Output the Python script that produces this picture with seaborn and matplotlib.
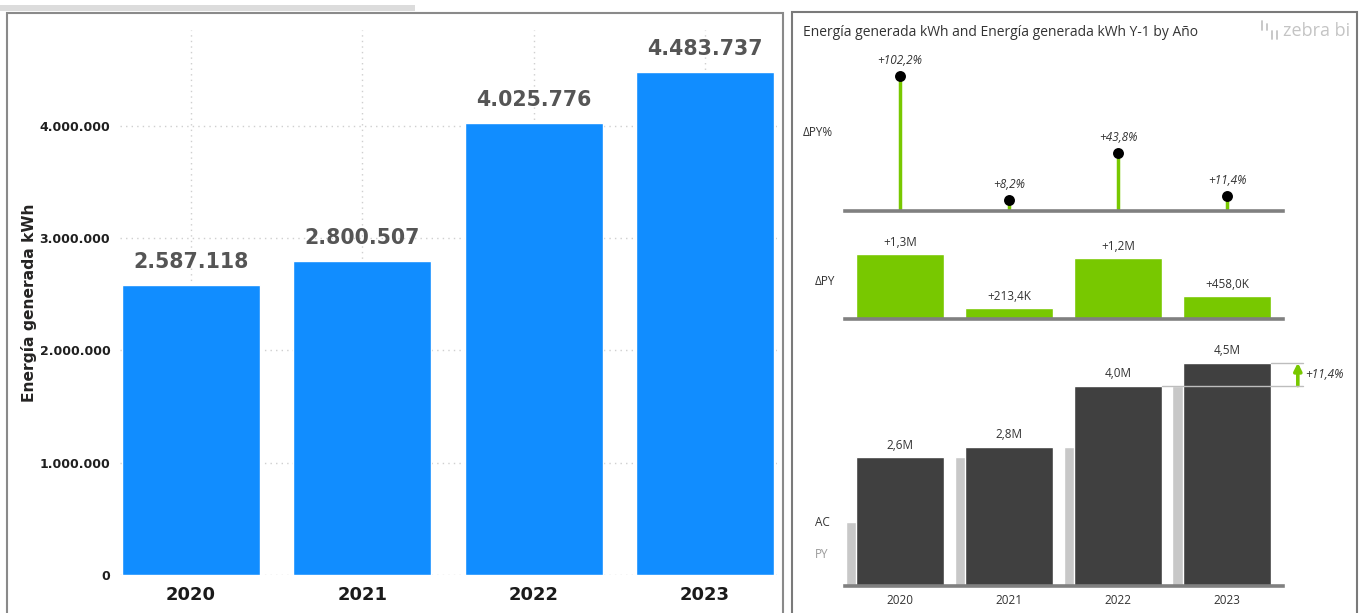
import numpy as np
import pandas as pd
import matplotlib
matplotlib.use("Agg")
import matplotlib.pyplot as plt
import seaborn as sns
from matplotlib.patches import Rectangle
from matplotlib.lines import Line2D

# ---------------- data ----------------
years = ["2020", "2021", "2022", "2023"]
energia_ac = [2587118, 2800507, 4025776, 4483737]       # Energía generada kWh
energia_py = [1279485, 2587118, 2800507, 4025776]       # Energía generada kWh Y-1
y_ticks = [0, 1000000, 2000000, 3000000, 4000000]

title_right = "Energía generada kWh and Energía generada kWh Y-1 by Año"
ylabel_left = "Energía generada kWh"

# ---------------- style ----------------
sns.set_theme(style="white")
plt.rcParams["font.family"] = ["DejaVu Sans"]

BLUE = "#118DFF"
GREEN = "#78C800"
DARK = "#404040"
LIGHT = "#C8C8C8"
TXT = "#333333"
RF = "Open Sans"
FS = 8.5

W, H = 1364, 613
fig = plt.figure(figsize=(W / 100, H / 100), dpi=100)
fig.patch.set_facecolor("white")


def rect(x0, y0, x1, y1):
    return [x0 / W, 1 - y1 / H, (x1 - x0) / W, (y1 - y0) / H]


def dots(v):
    return f"{v:,.0f}".replace(",", ".")


def short(v, sign=False):
    s = "+" if (sign and v >= 0) else ""
    if abs(v) >= 1e6:
        return s + f"{v / 1e6:.1f}M".replace(".", ",")
    return s + f"{v / 1e3:.1f}K".replace(".", ",")


# ---------------- panel frames ----------------
fig.add_artist(Rectangle((0, 1 - 11 / H), 415 / W, 6 / H, transform=fig.transFigure,
                         facecolor="#dcdcdc", edgecolor="none"))
fig.add_artist(Rectangle((7 / W, -0.05), (783 - 7) / W, 1.05 - 13 / H, transform=fig.transFigure,
                         facecolor="none", edgecolor="#8a8a8a", lw=1.5))
fig.add_artist(Rectangle((792 / W, -0.05), (1357 - 792) / W, 1.05 - 12 / H, transform=fig.transFigure,
                         facecolor="none", edgecolor="#7a7a7a", lw=1.5))

# ---------------- left chart ----------------
axL = fig.add_axes(rect(120, 30, 777, 575))
dfL = pd.DataFrame({"Año": years, "kWh": energia_ac})
sns.barplot(data=dfL, x="Año", y="kWh", color=BLUE, saturation=1, width=0.806, ax=axL, zorder=2)
axL.set_xlim(-0.414, 3.42)
axL.set_ylim(0, 4.855e6)
axL.set_yticks(y_ticks)
axL.set_yticklabels([dots(v) for v in y_ticks])
axL.set_xlabel("")
axL.set_ylabel(ylabel_left, fontsize=11.2, fontweight="bold", color="#252423")
axL.yaxis.set_label_coords(-0.126, 0.5)
for s in axL.spines.values():
    s.set_visible(False)
axL.grid(True, axis="both", color="#cfcfcf", lw=1, linestyle=(0, (1, 3)), zorder=0)
axL.set_axisbelow(True)
axL.tick_params(axis="y", length=0, pad=7, labelsize=9, labelcolor="#1f1f1f")
axL.tick_params(axis="x", length=0, pad=8, labelsize=13, labelcolor="#1a1a1a")
for lbl in axL.get_yticklabels() + axL.get_xticklabels():
    lbl.set_fontweight("bold")
for i, v in enumerate(energia_ac):
    axL.annotate(dots(v), (i, v), xytext=(0, 12), textcoords="offset points",
                 ha="center", va="baseline", fontsize=14.8, fontweight="bold", color="#555555")

# ---------------- right chart ----------------
xpos = np.arange(len(years))
ac = np.array(energia_ac, dtype=float)
py = np.array(energia_py, dtype=float)
delta = ac - py
delta_pct = (ac / py - 1) * 100
XL = (-0.505, 3.514)

fig.text(803 / W, 1 - 32 / H, title_right, fontsize=10, color=TXT, family=RF, va="center", ha="left")
fig.text(1283 / W, 1 - 31 / H, "zebra bi", fontsize=13, color="#c4c4c4", family=RF, va="center", ha="left")
for xx, yb, yt in [(1262, 30, 21), (1267, 30, 24), (1272, 39, 31), (1277, 39, 31)]:
    fig.add_artist(Line2D([xx / W, xx / W], [1 - yb / H, 1 - yt / H], transform=fig.transFigure,
                          color="#c4c4c4", lw=1.3))


def style_right(ax, ymax):
    ax.set_xlim(*XL)
    ax.set_ylim(0, ymax)
    for k in ["left", "right", "top"]:
        ax.spines[k].set_visible(False)
    ax.spines["bottom"].set_color("#808080")
    ax.spines["bottom"].set_linewidth(2.6)
    ax.spines["bottom"].set_zorder(5)
    ax.set_yticks([])
    ax.set_xlabel("")
    ax.set_ylabel("")
    ax.patch.set_alpha(0)


# ΔPY%
axP = fig.add_axes(rect(845, 51, 1283, 211))
axP.vlines(xpos, 0, delta_pct, color=GREEN, lw=2.5, zorder=2)
sns.scatterplot(x=xpos, y=delta_pct, color="black", s=62, linewidth=0, ax=axP, zorder=3)
style_right(axP, 160 / 1.32)
axP.set_xticks([])
for i, v in enumerate(delta_pct):
    axP.annotate(f"+{v:.1f}%".replace(".", ","), (i, v), xytext=(0, 11.5), textcoords="offset points",
                 ha="center", va="center", fontsize=FS, style="italic", color=TXT, family=RF)
fig.text(803 / W, 1 - 133 / H, "ΔPY%", fontsize=FS, color=TXT, family=RF, va="center")

# ΔPY
axD = fig.add_axes(rect(845, 230, 1283, 319))
sns.barplot(x=xpos, y=delta, native_scale=True, color=GREEN, saturation=1, width=0.8, ax=axD, zorder=2)
style_right(axD, 89 / 49.8e-6)
axD.set_xticks([])
for i, v in enumerate(delta):
    axD.annotate(short(v, sign=True), (i, v), xytext=(0, 8.5), textcoords="offset points",
                 ha="center", va="center", fontsize=FS, color=TXT, family=RF)
fig.text(815 / W, 1 - 281 / H, "ΔPY", fontsize=FS, color=TXT, family=RF, va="center")

# AC / PY
axA = fig.add_axes(rect(845, 340, 1283, 586))
sns.barplot(x=xpos - 0.1, y=py, native_scale=True, color=LIGHT, saturation=1, width=0.8, ax=axA, zorder=1)
sns.barplot(x=xpos, y=ac, native_scale=True, color=DARK, saturation=1, width=0.8, ax=axA, zorder=2)
style_right(axA, 246 / 49.8e-6)
axA.set_xticks(xpos)
axA.set_xticklabels(years)
axA.tick_params(axis="x", length=0, pad=6, labelsize=FS, labelcolor=TXT)
for lbl in axA.get_xticklabels():
    lbl.set_fontfamily(RF)
for i, v in enumerate(ac):
    axA.annotate(short(v), (i, v), xytext=(0, 8.5), textcoords="offset points",
                 ha="center", va="center", fontsize=FS, color=TXT, family=RF)
fig.text(822 / W, 1 - 522 / H, "AC", fontsize=FS, color=TXT, family=RF, va="center", ha="center")
fig.text(822 / W, 1 - 555 / H, "PY", fontsize=FS, color="#9a9a9a", family=RF, va="center", ha="center")

# variance indicator for last year
xa = 3.65
axA.plot([2.4, 3.7], [py[-1], py[-1]], color="#bdbdbd", lw=1, clip_on=False, zorder=4)
axA.plot([3.4, 3.7], [ac[-1], ac[-1]], color="#bdbdbd", lw=1, clip_on=False, zorder=4)
axA.annotate("", xy=(xa, ac[-1]), xytext=(xa, py[-1]), annotation_clip=False,
             arrowprops=dict(arrowstyle="-|>", color=GREEN, lw=2.6, mutation_scale=11,
                             shrinkA=0, shrinkB=0))
axA.text(3.72, (ac[-1] + py[-1]) / 2, f"+{delta_pct[-1]:.1f}%".replace(".", ","), fontsize=FS,
         style="italic", color=TXT, family=RF, va="center", ha="left", clip_on=False)

fig.savefig("out.png", dpi=100)
